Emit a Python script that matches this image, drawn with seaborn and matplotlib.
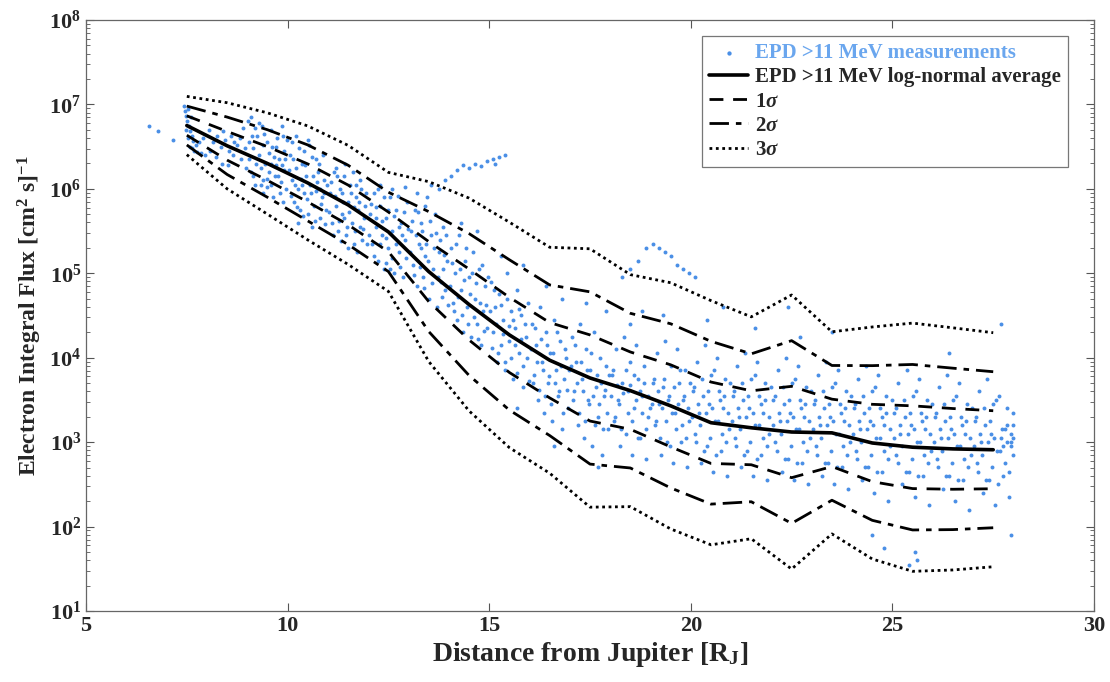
import numpy as np
import pandas as pd
import matplotlib
matplotlib.use("Agg")
import matplotlib.pyplot as plt
import seaborn as sns

# bin centres [R_J] and log10 of the log-normal average / spread
R_BINS = [7.5, 8.5, 9.5, 10.5, 11.5, 12.5, 13.5, 14.5, 15.5, 16.5, 17.5,
          18.5, 19.5, 20.5, 21.5, 22.5, 23.5, 24.5, 25.5, 26.5, 27.5]
MEAN_LOG = [6.75, 6.51, 6.30, 6.07, 5.81, 5.49, 5.02, 4.63, 4.27, 3.97, 3.76,
            3.61, 3.43, 3.23, 3.17, 3.12, 3.11, 2.99, 2.94, 2.92, 2.91]
SIGMA_LOG = [0.115, 0.170, 0.200, 0.225, 0.235, 0.235, 0.355, 0.420, 0.445, 0.446, 0.510,
             0.458, 0.486, 0.482, 0.438, 0.541, 0.399, 0.458, 0.490, 0.478, 0.462]

MEAS = [
    (6.55, 6.74), (6.79, 6.69), (7.16, 6.58),
    (7.42, 6.98), (7.45, 6.92), (7.48, 6.86), (7.50, 6.80), (7.55, 6.74), (7.58, 6.68),
    (7.62, 6.62), (7.66, 6.57), (7.72, 6.52), (7.80, 6.55), (7.90, 6.60), (7.52, 6.95), (7.60, 6.85),
    (8.05, 6.70), (8.15, 6.55), (8.25, 6.62), (8.35, 6.50), (8.45, 6.58), (8.55, 6.45),
    (8.65, 6.40), (8.75, 6.52), (8.85, 6.35), (8.95, 6.48), (8.60, 6.62), (8.90, 6.72),
    (9.02, 6.80), (9.10, 6.85), (9.18, 6.72), (9.25, 6.62), (9.30, 6.40), (9.35, 6.25),
    (9.40, 6.10), (9.45, 6.30), (9.50, 6.55), (9.55, 6.20), (9.60, 6.05), (9.65, 6.38),
    (9.70, 6.50), (9.75, 6.15), (9.80, 5.95), (9.85, 6.28), (9.90, 6.45), (9.95, 6.00),
    (9.20, 6.05), (9.40, 5.95), (9.60, 6.70), (9.85, 6.75), (9.05, 6.35), (9.15, 6.15),
    (9.50, 6.02), (9.70, 6.28), (9.90, 6.22),
    (10.05, 6.40), (10.10, 6.10), (10.15, 5.85), (10.20, 6.25), (10.25, 6.00), (10.30, 5.75),
    (10.35, 6.30), (10.40, 5.95), (10.45, 6.15), (10.50, 5.70), (10.55, 6.05), (10.60, 6.38),
    (10.65, 5.80), (10.70, 5.98), (10.75, 6.20), (10.80, 5.65), (10.85, 5.90), (10.90, 6.10),
    (10.95, 5.75), (10.10, 6.55), (10.40, 6.45), (10.70, 6.35), (10.25, 5.60), (10.60, 5.55),
    (10.90, 5.95), (10.35, 6.05), (10.80, 6.00),
    (11.05, 5.95), (11.10, 5.60), (11.15, 6.20), (11.20, 5.80), (11.25, 5.50), (11.30, 6.00),
    (11.35, 5.70), (11.40, 6.15), (11.45, 5.45), (11.50, 5.85), (11.55, 6.05), (11.60, 5.60),
    (11.65, 5.35), (11.70, 5.90), (11.75, 5.75), (11.80, 6.10), (11.85, 5.40), (11.90, 5.65),
    (11.95, 5.95), (11.20, 6.25), (11.50, 5.30), (11.80, 5.55), (11.35, 5.95), (11.65, 5.78),
    (12.05, 5.70), (12.10, 5.35), (12.15, 5.95), (12.20, 5.55), (12.25, 5.15), (12.30, 5.80),
    (12.35, 5.45), (12.40, 5.05), (12.45, 5.65), (12.50, 5.30), (12.55, 5.90), (12.60, 5.50),
    (12.65, 5.00), (12.70, 5.75), (12.75, 5.25), (12.80, 5.60), (12.85, 4.95), (12.90, 5.40),
    (12.95, 5.85), (12.30, 6.05), (12.60, 6.00), (12.90, 6.02), (12.45, 5.42), (12.75, 5.55),
    (13.05, 5.50), (13.10, 5.10), (13.15, 5.75), (13.20, 4.85), (13.25, 5.35), (13.30, 5.60),
    (13.35, 4.95), (13.40, 5.20), (13.45, 5.90), (13.50, 4.70), (13.55, 5.45), (13.60, 5.05),
    (13.65, 5.70), (13.70, 4.60), (13.75, 5.25), (13.80, 4.90), (13.85, 5.55), (13.90, 4.80),
    (13.95, 5.15), (13.55, 6.05), (13.75, 6.00), (13.30, 5.30), (13.85, 5.05),
    (14.05, 5.30), (14.10, 4.65), (14.15, 5.00), (14.20, 4.45), (14.25, 5.45), (14.30, 4.80),
    (14.35, 4.30), (14.40, 5.15), (14.45, 4.60), (14.50, 4.95), (14.55, 4.25), (14.60, 5.25),
    (14.65, 4.70), (14.70, 4.40), (14.75, 5.05), (14.80, 4.15), (14.85, 4.55), (14.90, 4.85),
    (14.95, 4.35), (14.30, 5.60), (14.70, 5.50),
    (13.90, 6.10), (14.05, 6.15), (14.20, 6.22), (14.35, 6.28), (14.50, 6.25), (14.65, 6.30),
    (14.80, 6.27), (14.95, 6.33), (15.10, 6.35), (15.25, 6.38), (15.40, 6.40), (15.15, 6.30),
    (15.05, 4.90), (15.10, 4.30), (15.15, 4.60), (15.20, 3.95), (15.25, 4.75), (15.30, 4.15),
    (15.35, 4.45), (15.40, 3.85), (15.45, 5.00), (15.50, 4.20), (15.55, 4.55), (15.60, 3.75),
    (15.65, 4.35), (15.70, 4.80), (15.75, 4.05), (15.80, 4.50), (15.85, 3.65), (15.90, 4.25),
    (15.95, 4.65), (15.30, 5.20), (15.70, 3.40), (15.85, 5.10),
    (16.05, 4.40), (16.10, 3.80), (16.15, 4.15), (16.20, 3.50), (16.25, 4.60), (16.30, 3.95),
    (16.35, 3.35), (16.40, 4.30), (16.45, 3.70), (16.50, 4.05), (16.55, 3.25), (16.60, 4.45),
    (16.65, 3.85), (16.70, 3.55), (16.75, 4.20), (16.80, 3.15), (16.85, 3.75), (16.90, 4.00),
    (16.95, 3.40), (16.40, 4.85), (16.80, 4.70), (16.60, 2.95),
    (17.05, 4.25), (17.10, 3.60), (17.15, 3.95), (17.20, 3.20), (17.25, 4.40), (17.30, 3.75),
    (17.35, 3.05), (17.40, 4.10), (17.45, 3.50), (17.50, 3.85), (17.55, 2.95), (17.60, 4.30),
    (17.65, 3.65), (17.70, 3.30), (17.75, 4.00), (17.80, 2.85), (17.85, 3.55), (17.90, 3.90),
    (17.95, 3.15), (17.40, 4.65), (17.70, 2.70), (17.90, 4.55),
    (18.05, 3.80), (18.10, 3.25), (18.15, 4.10), (18.20, 3.50), (18.25, 2.95), (18.30, 3.70),
    (18.35, 4.25), (18.40, 3.10), (18.45, 3.60), (18.50, 3.95), (18.55, 2.85), (18.60, 3.40),
    (18.65, 4.15), (18.70, 3.75), (18.75, 3.05), (18.80, 3.55), (18.85, 3.90), (18.90, 2.80),
    (18.95, 3.30), (18.50, 4.40), (18.80, 4.55),
    (18.30, 4.95), (18.50, 5.05), (18.70, 5.15), (18.90, 5.30), (19.05, 5.35), (19.20, 5.30),
    (19.35, 5.25), (19.50, 5.20), (19.65, 5.10), (19.80, 5.05), (19.95, 5.00), (20.10, 4.95),
    (19.05, 3.70), (19.10, 3.20), (19.15, 4.05), (19.20, 3.45), (19.25, 2.85), (19.30, 3.65),
    (19.35, 4.20), (19.40, 3.00), (19.45, 3.55), (19.50, 3.90), (19.55, 2.75), (19.60, 3.35),
    (19.65, 4.10), (19.70, 3.70), (19.75, 3.00), (19.80, 3.50), (19.85, 3.85), (19.90, 2.70),
    (19.95, 3.25), (19.30, 4.50),
    (20.05, 3.60), (20.10, 3.10), (20.15, 3.95), (20.20, 3.35), (20.25, 2.75), (20.30, 3.55),
    (20.35, 4.15), (20.40, 2.95), (20.45, 3.45), (20.50, 3.80), (20.55, 2.65), (20.60, 3.25),
    (20.65, 4.00), (20.70, 3.60), (20.75, 2.90), (20.80, 3.40), (20.85, 3.75), (20.90, 2.60),
    (20.95, 3.15), (20.40, 4.45), (20.80, 4.60),
    (21.05, 3.55), (21.10, 3.05), (21.15, 3.90), (21.20, 3.30), (21.25, 2.70), (21.30, 3.50),
    (21.35, 4.05), (21.40, 2.90), (21.45, 3.40), (21.50, 3.75), (21.55, 2.60), (21.60, 3.20),
    (21.65, 3.95), (21.70, 3.55), (21.75, 2.85), (21.80, 3.35), (21.85, 3.70), (21.90, 2.55),
    (21.95, 3.10), (21.60, 4.35),
    (22.05, 3.50), (22.10, 3.00), (22.15, 3.85), (22.20, 3.25), (22.25, 2.65), (22.30, 3.45),
    (22.35, 4.00), (22.40, 2.80), (22.45, 3.35), (22.50, 3.70), (22.55, 2.55), (22.60, 3.15),
    (22.65, 3.90), (22.70, 3.50), (22.75, 2.75), (22.80, 3.30), (22.85, 3.65), (22.90, 2.50),
    (22.95, 3.05), (22.40, 4.60), (22.70, 4.25),
    (23.05, 3.45), (23.10, 2.95), (23.15, 3.80), (23.20, 3.20), (23.25, 2.60), (23.30, 3.40),
    (23.35, 3.95), (23.40, 2.75), (23.45, 3.30), (23.50, 3.65), (23.55, 2.50), (23.60, 3.10),
    (23.65, 3.85), (23.70, 3.45), (23.75, 2.70), (23.80, 3.25), (23.85, 3.60), (23.90, 2.45),
    (23.95, 3.00), (23.50, 4.30),
    (24.05, 3.40), (24.10, 2.90), (24.15, 3.75), (24.20, 3.15), (24.25, 2.55), (24.30, 3.35),
    (24.35, 3.90), (24.40, 2.70), (24.45, 3.25), (24.50, 3.60), (24.55, 2.40), (24.60, 3.05),
    (24.65, 3.80), (24.70, 3.40), (24.75, 2.65), (24.80, 3.20), (24.85, 3.55), (24.90, 2.30),
    (24.95, 2.95), (24.50, 1.90), (24.80, 1.75),
    (25.05, 3.35), (25.10, 2.85), (25.15, 3.70), (25.20, 3.10), (25.25, 2.50), (25.30, 3.30),
    (25.35, 3.85), (25.40, 2.65), (25.45, 3.20), (25.50, 3.55), (25.55, 2.35), (25.60, 3.00),
    (25.65, 3.75), (25.70, 3.35), (25.75, 2.60), (25.80, 3.15), (25.85, 3.50), (25.90, 2.25),
    (25.95, 2.90), (25.40, 1.55), (25.60, 1.60), (25.55, 1.70),
    (26.05, 3.30), (26.10, 2.80), (26.15, 3.65), (26.20, 3.05), (26.25, 2.45), (26.30, 3.25),
    (26.35, 3.80), (26.40, 2.60), (26.45, 3.15), (26.50, 3.50), (26.55, 2.30), (26.60, 2.95),
    (26.65, 3.70), (26.70, 3.30), (26.75, 2.55), (26.80, 3.10), (26.85, 3.45), (26.90, 2.20),
    (26.95, 2.85), (26.40, 4.05),
    (27.05, 3.25), (27.10, 2.75), (27.15, 3.60), (27.20, 3.00), (27.25, 2.40), (27.30, 3.20),
    (27.35, 3.75), (27.40, 2.55), (27.45, 3.10), (27.50, 3.45), (27.55, 2.25), (27.60, 2.90),
    (27.65, 3.55), (27.70, 3.05), (27.75, 2.60), (27.80, 3.15), (27.85, 3.40), (27.90, 2.35),
    (27.95, 2.95), (27.75, 2.95), (27.85, 3.00), (27.95, 3.10), (27.70, 4.40), (27.95, 1.90),
]

# second pass over the denser parts of the cloud
MEAS_MORE = [
    (7.47, 6.70), (7.53, 6.60), (7.57, 6.50), (7.63, 6.48), (7.68, 6.45), (7.75, 6.44),
    (7.85, 6.42), (7.95, 6.40),
    (8.07, 6.45), (8.22, 6.38), (8.38, 6.30), (8.52, 6.28), (8.68, 6.55), (8.82, 6.60),
    (8.97, 6.25), (8.40, 6.68),
    (9.03, 6.55), (9.08, 6.20), (9.13, 6.48), (9.22, 6.30), (9.28, 6.78), (9.33, 6.05),
    (9.38, 6.52), (9.42, 6.65), (9.48, 6.12), (9.53, 6.42), (9.58, 6.30), (9.63, 5.90),
    (9.68, 6.15), (9.73, 6.60), (9.78, 6.35), (9.83, 6.08), (9.88, 5.85), (9.93, 6.35),
    (9.98, 6.58), (9.12, 6.62), (9.37, 6.75), (9.62, 6.50), (9.88, 6.62),
    (10.03, 6.22), (10.08, 5.92), (10.13, 6.35), (10.18, 6.05), (10.23, 5.78), (10.28, 6.48),
    (10.33, 6.12), (10.38, 5.68), (10.43, 6.28), (10.48, 5.88), (10.53, 6.52), (10.58, 5.95),
    (10.63, 6.15), (10.68, 5.62), (10.73, 6.08), (10.78, 6.30), (10.83, 5.82), (10.88, 6.40),
    (10.93, 5.58), (10.98, 6.05), (10.20, 6.62), (10.50, 6.58),
    (11.03, 5.72), (11.08, 6.08), (11.13, 5.45), (11.18, 5.92), (11.23, 6.15), (11.28, 5.62),
    (11.33, 5.38), (11.38, 5.85), (11.43, 6.30), (11.48, 5.55), (11.53, 5.72), (11.58, 5.95),
    (11.63, 6.20), (11.68, 5.50), (11.73, 5.25), (11.78, 5.85), (11.83, 6.00), (11.88, 5.52),
    (11.93, 5.80), (11.98, 5.35), (11.40, 5.65), (11.70, 6.05),
    (12.03, 5.45), (12.08, 5.82), (12.13, 5.20), (12.18, 5.65), (12.23, 6.00), (12.28, 5.35),
    (12.33, 5.62), (12.38, 5.90), (12.43, 5.12), (12.48, 5.75), (12.53, 5.48), (12.58, 5.18),
    (12.63, 5.68), (12.68, 5.35), (12.73, 5.92), (12.78, 5.08), (12.83, 5.45), (12.88, 5.72),
    (12.93, 5.18), (12.98, 5.52), (12.55, 5.05), (12.20, 5.78),
    (13.03, 5.25), (13.08, 5.62), (13.13, 4.98), (13.18, 5.45), (13.23, 5.72), (13.28, 5.08),
    (13.33, 5.50), (13.38, 4.82), (13.43, 5.35), (13.48, 5.15), (13.53, 5.62), (13.58, 4.88),
    (13.63, 5.30), (13.68, 5.48), (13.73, 4.95), (13.78, 5.40), (13.83, 4.72), (13.88, 5.22),
    (13.93, 5.45), (13.98, 4.62), (13.40, 5.80), (13.20, 5.95),
    (14.03, 4.85), (14.08, 5.12), (14.13, 4.55), (14.18, 5.35), (14.23, 4.72), (14.28, 5.05),
    (14.33, 4.50), (14.38, 4.92), (14.43, 5.30), (14.48, 4.40), (14.53, 4.75), (14.58, 5.00),
    (14.63, 4.48), (14.68, 4.88), (14.73, 4.22), (14.78, 4.65), (14.83, 5.10), (14.88, 4.32),
    (14.93, 4.62), (14.98, 4.95),
    (15.03, 4.55), (15.08, 4.12), (15.13, 4.80), (15.18, 4.40), (15.23, 4.05), (15.28, 4.62),
    (15.33, 4.28), (15.38, 3.95), (15.43, 4.70), (15.48, 4.38), (15.53, 4.00), (15.58, 4.45),
    (15.63, 4.15), (15.68, 3.82), (15.73, 4.58), (15.78, 4.22), (15.83, 3.90), (15.88, 4.40),
    (15.93, 4.00), (15.98, 3.72),
    (16.03, 4.10), (16.08, 3.70), (16.13, 4.35), (16.18, 3.95), (16.23, 3.62), (16.28, 4.22),
    (16.33, 3.85), (16.38, 3.55), (16.43, 4.15), (16.48, 3.78), (16.53, 3.45), (16.58, 4.05),
    (16.63, 3.70), (16.68, 4.30), (16.73, 3.60), (16.78, 3.90), (16.83, 3.35), (16.88, 4.10),
    (16.93, 3.62), (16.98, 3.85),
    (17.03, 3.90), (17.08, 3.50), (17.13, 4.15), (17.18, 3.70), (17.23, 3.35), (17.28, 3.95),
    (17.33, 3.60), (17.38, 3.25), (17.43, 3.85), (17.48, 3.45), (17.53, 4.05), (17.58, 3.55),
    (17.63, 3.20), (17.68, 3.80), (17.73, 3.45), (17.78, 3.70), (17.83, 3.15), (17.88, 3.62),
    (17.93, 3.35), (17.98, 3.80),
    (18.03, 3.55), (18.08, 3.85), (18.13, 3.30), (18.18, 3.68), (18.23, 3.45), (18.28, 3.15),
    (18.33, 3.58), (18.38, 3.85), (18.43, 3.35), (18.48, 3.68), (18.53, 3.25), (18.58, 3.80),
    (18.63, 3.50), (18.68, 3.05), (18.73, 3.60), (18.78, 3.35), (18.83, 3.70), (18.88, 3.15),
    (18.93, 3.55), (18.98, 3.40),
    (19.03, 3.45), (19.08, 3.75), (19.13, 3.25), (19.18, 3.60), (19.23, 3.05), (19.28, 3.40),
    (19.33, 3.75), (19.38, 3.25), (19.43, 3.50), (19.48, 2.95), (19.53, 3.35), (19.58, 3.65),
    (19.63, 3.15), (19.68, 3.45), (19.73, 3.85), (19.78, 3.20), (19.83, 3.55), (19.88, 3.05),
    (19.93, 3.40), (19.98, 3.70),
    (20.03, 3.30), (20.08, 3.65), (20.13, 3.00), (20.18, 3.45), (20.23, 3.20), (20.28, 3.75),
    (20.33, 2.90), (20.38, 3.35), (20.43, 3.60), (20.48, 3.05), (20.53, 3.40), (20.58, 3.85),
    (20.63, 2.85), (20.68, 3.25), (20.73, 3.50), (20.78, 3.10), (20.83, 3.55), (20.88, 3.00),
    (20.93, 3.35), (20.98, 3.70),
    (21.03, 3.25), (21.08, 3.60), (21.13, 2.95), (21.18, 3.40), (21.23, 3.15), (21.28, 3.70),
    (21.33, 2.85), (21.38, 3.30), (21.43, 3.55), (21.48, 3.00), (21.53, 3.35), (21.58, 3.80),
    (21.63, 2.80), (21.68, 3.20), (21.73, 3.45), (21.78, 3.05), (21.83, 3.50), (21.88, 2.95),
    (21.93, 3.30), (21.98, 3.65),
    (22.03, 3.20), (22.08, 3.55), (22.13, 2.90), (22.18, 3.35), (22.23, 3.10), (22.28, 3.65),
    (22.33, 2.80), (22.38, 3.25), (22.43, 3.50), (22.48, 2.95), (22.53, 3.30), (22.58, 3.75),
    (22.63, 2.75), (22.68, 3.15), (22.73, 3.40), (22.78, 3.00), (22.83, 3.45), (22.88, 2.90),
    (22.93, 3.25), (22.98, 3.60),
    (23.03, 3.15), (23.08, 3.50), (23.13, 2.85), (23.18, 3.30), (23.23, 3.05), (23.28, 3.60),
    (23.33, 2.75), (23.38, 3.20), (23.43, 3.45), (23.48, 2.90), (23.53, 3.25), (23.58, 3.70),
    (23.63, 2.70), (23.68, 3.10), (23.73, 3.35), (23.78, 2.95), (23.83, 3.40), (23.88, 2.85),
    (23.93, 3.20), (23.98, 3.55),
    (24.03, 3.10), (24.08, 3.45), (24.13, 2.80), (24.18, 3.25), (24.23, 3.00), (24.28, 3.55),
    (24.33, 2.70), (24.38, 3.15), (24.43, 3.40), (24.48, 2.85), (24.53, 3.20), (24.58, 3.65),
    (24.63, 2.65), (24.68, 3.05), (24.73, 3.30), (24.78, 2.90), (24.83, 3.35), (24.88, 2.80),
    (24.93, 3.15), (24.98, 3.50),
    (25.03, 3.05), (25.08, 3.40), (25.13, 2.75), (25.18, 3.20), (25.23, 2.95), (25.28, 3.50),
    (25.33, 2.65), (25.38, 3.10), (25.43, 3.35), (25.48, 2.80), (25.53, 3.15), (25.58, 3.60),
    (25.63, 2.60), (25.68, 3.00), (25.73, 3.25), (25.78, 2.85), (25.83, 3.30), (25.88, 2.75),
    (25.93, 3.10), (25.98, 3.45),
    (26.03, 3.00), (26.08, 3.35), (26.13, 2.70), (26.18, 3.15), (26.23, 2.90), (26.28, 3.45),
    (26.33, 2.60), (26.38, 3.05), (26.43, 3.30), (26.48, 2.75), (26.53, 3.10), (26.58, 3.55),
    (26.63, 2.55), (26.68, 2.95), (26.73, 3.20), (26.78, 2.80), (26.83, 3.25), (26.88, 2.70),
    (26.93, 3.05), (26.98, 3.40),
    (27.03, 2.95), (27.08, 3.30), (27.13, 2.65), (27.18, 3.10), (27.23, 2.85), (27.28, 3.40),
    (27.33, 2.55), (27.38, 3.00), (27.43, 3.25), (27.48, 2.70), (27.53, 3.05), (27.58, 3.50),
    (27.63, 2.50), (27.68, 2.90), (27.73, 3.15), (27.78, 2.75), (27.83, 3.20), (27.88, 2.65),
    (27.93, 3.00), (27.98, 3.35), (28.00, 3.05), (28.00, 2.85), (27.99, 3.20),
]

DOT_BLUE = "#4a8fe6"

sns.set_style("ticks")
plt.rcParams["font.family"] = ["Liberation Serif", "DejaVu Serif"]
plt.rcParams["font.weight"] = "bold"
plt.rcParams["axes.labelweight"] = "bold"
plt.rcParams["mathtext.fontset"] = "custom"
plt.rcParams["mathtext.rm"] = "Liberation Serif:bold"
plt.rcParams["mathtext.it"] = "Liberation Serif:italic:bold"
plt.rcParams["mathtext.bf"] = "Liberation Serif:bold"

meas = pd.DataFrame(MEAS + MEAS_MORE, columns=["r", "logflux"])
meas["flux"] = 10 ** meas["logflux"]

mu = np.array(MEAN_LOG)
sig = np.array(SIGMA_LOG)
avg = pd.DataFrame({"r": R_BINS, "flux": 10 ** mu})

fig = plt.figure(figsize=(11.1, 6.82), dpi=100)
ax = fig.add_axes([0.0775, 0.1041, 0.9081, 0.8666])

sns.scatterplot(data=meas, x="r", y="flux", ax=ax, color=DOT_BLUE, s=8,
                linewidth=0, label="EPD >11 MeV measurements")
sns.lineplot(data=avg, x="r", y="flux", ax=ax, color="black", linewidth=2.6,
             label="EPD >11 MeV log-normal average")

styles = [(1, (0, (5, 3.5)), 2.0), (2, (0, (7, 2.5, 2, 2.5)), 2.0), (3, (0, (1, 1.3)), 2.0)]
for k, ls, lw in styles:
    for sgn in (1, -1):
        band = pd.DataFrame({"r": R_BINS, "flux": 10 ** (mu + sgn * k * sig)})
        sns.lineplot(data=band, x="r", y="flux", ax=ax, color="black",
                     linestyle=ls, linewidth=lw,
                     label=rf"{k}$\sigma$" if sgn == 1 else None)

ax.set_yscale("log")
ax.set_xlim(5, 30)
ax.set_ylim(1e1, 1e8)
ax.set_xticks([5, 10, 15, 20, 25, 30])
ax.set_xlabel(r"Distance from Jupiter [R$_{\mathdefault{J}}$]", fontsize=20, labelpad=3)
ax.set_ylabel(r"Electron Integral Flux [cm$^{\mathdefault{2}}$ s]$^{\mathdefault{-1}}$",
              fontsize=17, labelpad=4)
ax.tick_params(which="both", direction="in", top=True, right=True, labelsize=16,
               color="#555555")
ax.tick_params(which="major", length=6, width=0.8)
ax.tick_params(which="minor", length=3, width=0.6)
for sp in ax.spines.values():
    sp.set_color("#666666")
    sp.set_linewidth(0.9)

leg = ax.legend(loc="upper right", bbox_to_anchor=(0.974, 0.973), borderaxespad=0,
                fontsize=15, frameon=True, fancybox=False, edgecolor="#555555",
                handlelength=1.9, handletextpad=0.3, labelspacing=0.2,
                borderpad=0.35, markerscale=1.1)
leg.get_frame().set_linewidth(0.9)
leg.get_texts()[0].set_color("#6aa6ee")

fig.savefig("out.png", dpi=100)
